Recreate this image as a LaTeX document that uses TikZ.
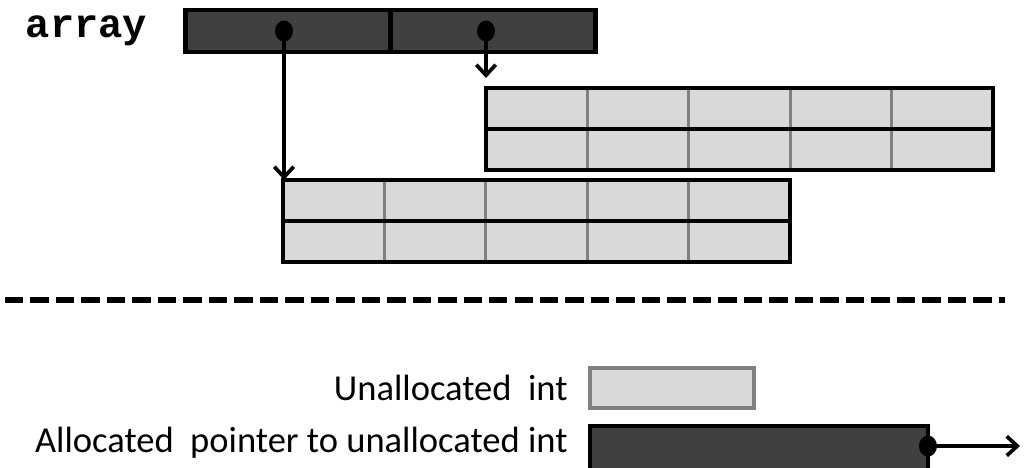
\documentclass[tikz,border=0pt]{standalone}
\usepackage{fontspec}
\setmainfont{Carlito}
\newfontfamily\codefont{Liberation Mono}
\usetikzlibrary{arrows.meta,positioning,shapes.geometric}
\definecolor{ptrgray}{HTML}{404040}
\definecolor{intgray}{HTML}{D9D9D9}
\definecolor{gridgray}{HTML}{808080}

\begin{document}
\begin{tikzpicture}[x=0.02cm,y=-0.02cm,>={Straight Barb[length=6pt,width=11pt]},
    ptrcell/.style={draw,fill=ptrgray,line width=2.4pt,inner sep=0pt,outer sep=0pt,minimum width=4.1cm,minimum height=0.84cm},
    intblock/.style={draw,fill=intgray,line width=2.6pt,inner sep=0pt,outer sep=0pt,minimum width=10.14cm,minimum height=1.64cm,anchor=north west},
    gridline/.style={gridgray,line width=1.7pt,shorten <=1.3pt,shorten >=1.3pt},
    ptrdot/.style={fill=black,ellipse,inner sep=0pt,minimum width=0.36cm,minimum height=0.42cm},
    ptrline/.style={->,line width=2.1pt},
    legend/.style={inner sep=0pt,font=\fontsize{20.8}{24}\selectfont}]

  \useasboundingbox (0,0) rectangle (1024,467);

  % The pointer array
  \node[ptrcell] (cell1) at (288,31) {};
  \node[ptrcell,right=0pt of cell1] (cell2) {};
  \node[inner sep=0pt,left=0.76cm of cell1,font=\codefont\bfseries\fontsize{23}{23}\selectfont] (arrlabel) {array};
  \node[ptrdot] (dot1) at (284,31) {};
  \node[ptrdot] (dot2) at (486,31) {};

  % Blocks of unallocated ints
  \node[intblock] (upper) at (486,88) {};
  \node[intblock] (lower) at (283,180) {};
  \foreach \blk in {upper,lower} {
    \foreach \i in {1,...,4}
      \draw[gridline] (\blk.north west) ++(\i*101.4,0) -- ++(0,82);
    \draw[line width=2.6pt] (\blk.west) -- (\blk.east);
  }

  \draw[ptrline] (dot1.center) -- (dot1.center |- lower.north);
  \draw[ptrline,shorten >=0.2cm] (dot2.center) -- (dot2.center |- upper.north);

  % Separator
  \coordinate (sepL) at (5,300);
  \coordinate (sepR) at (1005,300);
  \draw[line width=3.6pt,dash pattern=on 10.5pt off 4pt] (sepL) -- (sepR);

  % Legend
  \node[draw=gridgray,fill=intgray,line width=2.6pt,outer sep=0pt,minimum width=3.28cm,minimum height=0.8cm] (legint) at (672,388) {};
  \node[draw,fill=ptrgray,line width=2.4pt,outer sep=0pt,minimum width=6.76cm,minimum height=1cm] (legptr) at (759,451) {};
  \node[ptrdot] (legdot) at (legptr.east |- 0,446) {};
  \coordinate (legmid) at (legptr.west |- 0,443);
  \node[legend,left=0.44cm of legint] (txtint) {Unallocated\ \ int};
  \node[legend,left=0.44cm of legmid] (txtptr) {Allocated\ \ pointer to unallocated int};
  \coordinate (legtip) at (1020,446);
  \draw[ptrline] (legdot.center) -- (legtip);

\end{tikzpicture}
\end{document}
